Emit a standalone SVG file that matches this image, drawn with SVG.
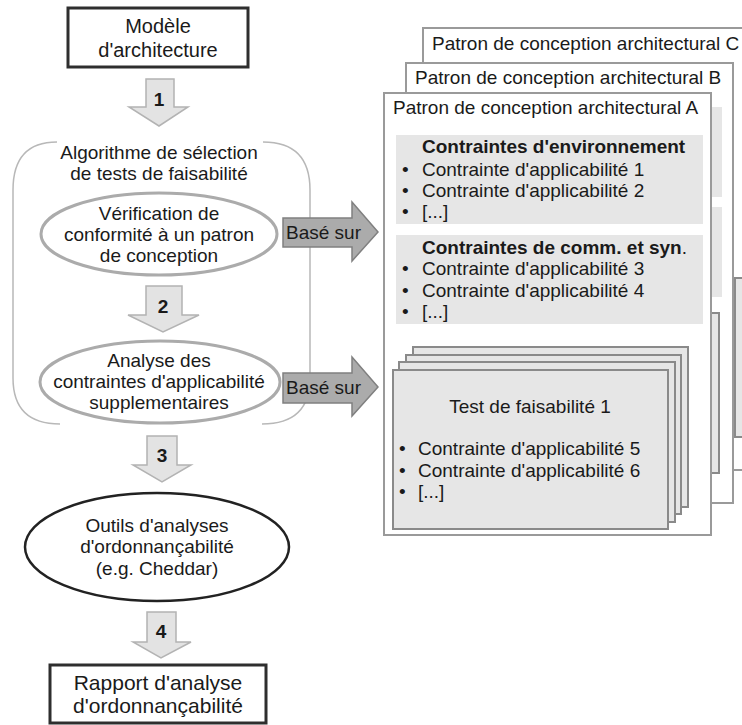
<svg xmlns="http://www.w3.org/2000/svg" width="742" height="725" viewBox="0 0 742 725">
<style>
text{font-family:"Liberation Sans",Arial,sans-serif;font-size:19px;fill:#1a1a1a}
.c{text-anchor:middle}
.b{font-weight:bold}
.num{font-weight:bold;font-size:19px;text-anchor:middle}
.box{fill:#fff;stroke:#2e2e2e;stroke-width:3}
.ell{fill:#fff;stroke:#ababab;stroke-width:3}
.ellk{fill:#fff;stroke:#222;stroke-width:2.5}
.flow{fill:#e3e3e3;stroke:#b3b3b3;stroke-width:1.5}
.based{fill:#ababab;stroke:#808080;stroke-width:1.5}
.page{fill:#fff;stroke:#9a9a9a;stroke-width:2}
.sec{fill:#e6e6e6;stroke:none}
.test{fill:#e6e6e6;stroke:#8a8a8a;stroke-width:2}
.cont{fill:none;stroke:#b8b8b8;stroke-width:1.5}
</style>

<g id="container">
<path class="cont" d="M57,142 Q13,142 13,190 L13,378 Q13,424 60,424 M263,142 Q310,142 310,190 L310,378 Q310,424 262,424"/>
<text class="c" x="159" y="159">Algorithme de sélection</text>
<text class="c" x="159" y="180">de tests de faisabilité</text>
</g>

<g id="modele">
<rect class="box" x="68" y="8" width="180" height="59"/>
<text class="c" x="158" y="33" style="font-size:20px">Modèle</text>
<text class="c" x="158" y="57" style="font-size:20px">d'architecture</text>
</g>

<g id="verification">
<ellipse class="ell" cx="159" cy="234" rx="118" ry="41"/>
<text class="c" x="159" y="220">Vérification de</text>
<text class="c" x="159" y="241">conformité à un patron</text>
<text class="c" x="159" y="262">de conception</text>
</g>

<g id="analyse">
<ellipse class="ell" cx="160" cy="382" rx="120" ry="41"/>
<text class="c" x="159" y="367">Analyse des</text>
<text class="c" x="159" y="388">contraintes d'applicabilité</text>
<text class="c" x="159" y="409">supplementaires</text>
</g>

<g id="outils">
<ellipse class="ellk" cx="157" cy="547" rx="132" ry="54"/>
<text class="c" x="157" y="532">Outils d'analyses</text>
<text class="c" x="157" y="553">d'ordonnançabilité</text>
<text class="c" x="157" y="575">(e.g. Cheddar)</text>
</g>

<g id="rapport">
<rect class="box" x="50" y="665" width="216" height="58"/>
<text class="c" x="158" y="690" style="font-size:21px">Rapport d'analyse</text>
<text class="c" x="158" y="713" style="font-size:21px">d'ordonnançabilité</text>
</g>

<g id="patron-c">
<rect class="page" x="423" y="28" width="330" height="442"/>
<text x="432" y="50">Patron de conception architectural C</text>
<rect class="test" x="735" y="278" width="20" height="159"/>
</g>

<g id="patron-b">
<rect class="page" x="406" y="63" width="327" height="440"/>
<text x="415" y="84">Patron de conception architectural B</text>
<rect class="sec" x="418" y="107" width="304" height="90"/>
<rect class="sec" x="418" y="207" width="304" height="90"/>
<rect class="test" x="440" y="313" width="279" height="160"/>
</g>

<g id="patron-a">
<rect class="page" x="384" y="93" width="327" height="442"/>
<text x="393" y="114">Patron de conception architectural A</text>
<g id="contraintes-env">
<rect class="sec" x="396" y="135" width="307" height="89"/>
<text class="b" x="422" y="153">Contraintes d'environnement</text>
<text x="402" y="176">•</text><text x="422" y="176">Contrainte d'applicabilité 1</text>
<text x="402" y="197">•</text><text x="422" y="197">Contrainte d'applicabilité 2</text>
<text x="402" y="218">•</text><text x="422" y="218">[...]</text>
</g>
<g id="contraintes-comm">
<rect class="sec" x="396" y="235" width="307" height="89"/>
<text x="422" y="254"><tspan class="b">Contraintes de comm. et syn</tspan>.</text>
<text x="402" y="275">•</text><text x="422" y="275">Contrainte d'applicabilité 3</text>
<text x="402" y="297">•</text><text x="422" y="297">Contrainte d'applicabilité 4</text>
<text x="402" y="318">•</text><text x="422" y="318">[...]</text>
</g>
<g id="tests">
<rect class="test" x="413" y="347" width="275" height="160"/>
<rect class="test" x="406" y="355" width="275" height="159"/>
<rect class="test" x="399" y="362" width="276" height="160"/>
<rect class="test" x="393" y="370" width="275" height="159"/>
<text class="c" x="530" y="413">Test de faisabilité 1</text>
<text x="399" y="455">•</text><text x="418" y="455">Contrainte d'applicabilité 5</text>
<text x="399" y="477">•</text><text x="418" y="477">Contrainte d'applicabilité 6</text>
<text x="399" y="498">•</text><text x="418" y="498">[...]</text>
</g>
</g>

<g id="connectors">
<path class="flow" d="M146,79 H174 V107 H188 L159,126 L129,107 H146 Z"/>
<text class="num" x="159" y="106">1</text>
<path class="flow" d="M146,286 H182 V315 H199 L163,332 L128,315 H146 Z"/>
<text class="num" x="163" y="313">2</text>
<path class="flow" d="M147,436 H177 V465 H191 L162,482 L133,465 H147 Z"/>
<text class="num" x="162" y="462">3</text>
<path class="flow" d="M147,612 H176 V642 H191 L161,658 L133,642 H147 Z"/>
<text class="num" x="161" y="638">4</text>
<path class="based" d="M283,218 H352 V202 L378,232 L352,261 V247 H283 Z"/>
<text x="286" y="239">Basé sur</text>
<path class="based" d="M283,373 H352 V357 L378,387 L352,416 V403 H283 Z"/>
<text x="286" y="394">Basé sur</text>
</g>
</svg>
